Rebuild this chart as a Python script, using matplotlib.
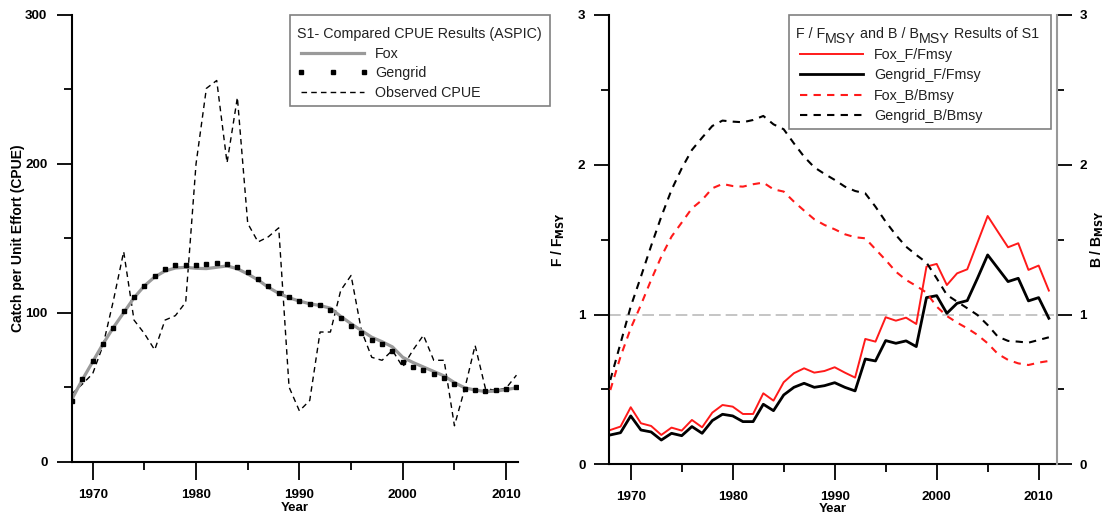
import numpy as np
import matplotlib.pyplot as plt
from matplotlib.ticker import MultipleLocator
from matplotlib.patches import Rectangle

plt.rcParams['font.family'] = ['Liberation Sans', 'DejaVu Sans']

# Tahun data
years = list(range(1968, 2012))

# CPUE (panel kiri)
cpue_fox = [42, 55, 67, 79, 90, 100, 110, 118, 124, 128, 130, 130.5, 129.8, 129.6, 130.5, 131.4,
            129.5, 126, 122, 117, 113, 110, 107.8, 106, 104.8, 103, 97.5, 92.6, 88, 83.5,
            80.5, 77, 70, 66.5, 63.5, 60.5, 57.5, 53, 49.5, 48, 47, 47.3, 48.3, 49.5]
cpue_gengrid = [40.4, 55.2, 67.5, 79.1, 89.9, 100.9, 110.3, 118.2, 124.4, 129.4, 131.8, 131.8,
                131.8, 132.5, 133.6, 132.7, 130.7, 127.6, 122.9, 117.7, 113.5, 110.5, 107.8, 105.8,
                105.4, 102.0, 96.4, 91.0, 86.1, 81.6, 79.1, 74.2, 67.0, 63.5, 61.7, 59.0,
                56.3, 52.2, 48.7, 48.2, 47.1, 47.8, 48.9, 50.0]
cpue_obs = [45.5, 52, 59, 78, 108, 141, 95, 86, 75, 95, 98, 107, 200, 250.7, 256, 200.7,
            244.6, 160, 147.5, 151, 157, 50, 34, 41, 87, 87, 115, 125, 88, 70, 68, 74.7,
            63.5, 75, 84.8, 68, 68, 24, 49, 78, 49, 47.8, 49.3, 58]

# F/Fmsy dan B/Bmsy (panel kanan)
fox_f = [0.229, 0.252, 0.381, 0.274, 0.256, 0.196, 0.245, 0.225, 0.296, 0.247, 0.345, 0.396,
         0.385, 0.336, 0.336, 0.474, 0.425, 0.548, 0.608, 0.641, 0.612, 0.623, 0.648, 0.612,
         0.579, 0.837, 0.819, 0.982, 0.959, 0.979, 0.937, 1.320, 1.338, 1.197, 1.275, 1.302,
         1.48, 1.658, 1.553, 1.449, 1.476, 1.298, 1.327, 1.160]
gengrid_f = [0.196, 0.211, 0.323, 0.229, 0.216, 0.162, 0.207, 0.191, 0.252, 0.207, 0.292, 0.334,
             0.323, 0.285, 0.285, 0.401, 0.358, 0.463, 0.514, 0.541, 0.514, 0.525, 0.545, 0.514,
             0.490, 0.703, 0.690, 0.826, 0.808, 0.824, 0.786, 1.113, 1.126, 1.008, 1.075, 1.093,
             1.242, 1.398, 1.309, 1.220, 1.242, 1.091, 1.113, 0.975]
fox_b = [0.496, 0.719, 0.908, 1.064, 1.231, 1.387, 1.520, 1.614, 1.709, 1.765, 1.843, 1.872,
         1.858, 1.854, 1.870, 1.881, 1.836, 1.821, 1.754, 1.694, 1.636, 1.598, 1.569, 1.536,
         1.516, 1.509, 1.436, 1.364, 1.286, 1.231, 1.191, 1.146, 1.053, 0.990, 0.946, 0.908,
         0.864, 0.808, 0.737, 0.697, 0.674, 0.663, 0.679, 0.690]
gengrid_b = [0.563, 0.808, 1.053, 1.253, 1.458, 1.654, 1.832, 1.976, 2.099, 2.181, 2.259, 2.295,
             2.288, 2.284, 2.299, 2.326, 2.270, 2.237, 2.143, 2.054, 1.983, 1.939, 1.899, 1.854,
             1.825, 1.809, 1.720, 1.620, 1.531, 1.453, 1.398, 1.347, 1.242, 1.131, 1.086, 1.042,
             0.997, 0.930, 0.852, 0.824, 0.819, 0.812, 0.830, 0.848]

W, H = 1109, 513
fig = plt.figure(figsize=(W / 100, H / 100), dpi=100)
txt_col = '#222222'
leg_fs = 10.3

leg_kw = dict(loc='upper left', frameon=False, fontsize=leg_fs, title_fontsize=leg_fs,
              borderaxespad=0, borderpad=0, handlelength=5.0, handletextpad=0.45,
              numpoints=3, labelcolor=txt_col)


def px(x, y):
    # piksel (dari kiri atas) -> koordinat figure
    return x / W, 1 - y / H


def legend_box(x0, y0, x1, y1):
    fig.patches.append(Rectangle(px(x0, y1), (x1 - x0) / W, (y1 - y0) / H,
                                 transform=fig.transFigure, fill=False,
                                 edgecolor='#808080', lw=1.2, zorder=5))


def style_axis(ax, xlen=13, xpad=6.5, ypad=6.5, xlabelpad=0):
    ax.spines['top'].set_visible(False)
    ax.xaxis.set_major_locator(MultipleLocator(10))
    ax.xaxis.set_minor_locator(MultipleLocator(5))
    ax.tick_params(axis='both', which='major', direction='out', width=1.3)
    ax.tick_params(axis='both', which='minor', direction='out', length=5.5, width=1.3)
    ax.tick_params(axis='x', which='major', length=xlen, pad=xpad)
    ax.tick_params(axis='y', which='major', length=11, pad=ypad)
    for lab in ax.get_xticklabels() + ax.get_yticklabels():
        lab.set_fontsize(9.7)
        lab.set_fontweight('bold')
    ax.set_xlabel('Year', fontsize=9.5, fontweight='bold', labelpad=xlabelpad)


# Panel kiri: CPUE
ax1 = fig.add_axes([71.7 / W, 1 - 461.5 / H, 446.3 / W, 446.5 / H])
ax1.plot(years, cpue_fox, color='#9a9a9a', lw=2.3, label='Fox', zorder=2)
ax1.plot(years, cpue_gengrid, ls='none', marker='s', ms=3.2, color='black', label='Gengrid', zorder=3)
ax1.plot(years, cpue_obs, color='black', lw=1, ls=(0, (4, 3)), label='Observed CPUE', zorder=1)
ax1.set_xlim(1967.97, 2011.15)
ax1.set_ylim(0, 300)
ax1.yaxis.set_major_locator(MultipleLocator(100))
ax1.yaxis.set_minor_locator(MultipleLocator(50))
ax1.spines['right'].set_visible(False)
ax1.spines['left'].set_linewidth(1.5)
ax1.spines['bottom'].set_linewidth(1.5)
style_axis(ax1, xlen=13, xpad=6.5, ypad=6.5, xlabelpad=1)
ax1.set_ylabel('Catch per Unit Effort (CPUE)', fontsize=10, fontweight='bold', labelpad=0)
leg1 = ax1.legend(title='S1- Compared CPUE Results (ASPIC)', labelspacing=0.39,
                  bbox_to_anchor=px(297, 27), bbox_transform=fig.transFigure, **leg_kw)
leg1._legend_box.align = 'left'
leg1.get_title().set_color(txt_col)
legend_box(290, 15, 550, 106)

# Panel kanan: F/Fmsy dan B/Bmsy
ax2 = fig.add_axes([609 / W, 1 - 464.3 / H, 447.5 / W, 449.3 / H])
ax3 = ax2.twinx()
ax2.axhline(1, color='#bbbbbb', lw=1.2, ls=(0, (7, 3)), zorder=0)
l1, = ax2.plot(years, fox_f, color='#ff1a1a', lw=1.4, label='Fox_F/Fmsy')
l2, = ax2.plot(years, gengrid_f, color='black', lw=2, label='Gengrid_F/Fmsy')
l3, = ax3.plot(years, fox_b, color='#ff1a1a', lw=1.5, ls=(0, (3.5, 3)), label='Fox_B/Bmsy')
l4, = ax3.plot(years, gengrid_b, color='black', lw=1.5, ls=(0, (3.5, 3)), label='Gengrid_B/Bmsy')
for ax in (ax2, ax3):
    ax.set_xlim(1967.87, 2011.75)
    ax.set_ylim(0, 3)
    ax.yaxis.set_major_locator(MultipleLocator(1))
    ax.yaxis.set_minor_locator(MultipleLocator(0.5))
    ax.spines['top'].set_visible(False)
ax2.spines['right'].set_visible(False)
ax2.spines['left'].set_linewidth(1.5)
ax2.spines['bottom'].set_linewidth(1.5)
ax3.spines['left'].set_visible(False)
ax3.spines['bottom'].set_visible(False)
ax3.spines['right'].set_color('#999999')
ax3.spines['right'].set_linewidth(1.5)
style_axis(ax2, xlen=11.5, xpad=7.5, ypad=6, xlabelpad=0)
ax3.tick_params(axis='y', which='major', direction='out', length=11, width=1.3, pad=5.5)
ax3.tick_params(axis='y', which='minor', direction='out', length=5, width=1.3)
for lab in ax3.get_yticklabels():
    lab.set_fontsize(9.7)
    lab.set_fontweight('bold')
ax2.set_ylabel(r'F / F$_{\mathbf{MSY}}$', fontsize=10, fontweight='bold', labelpad=8)
ax3.set_ylabel(r'B / B$_{\mathbf{MSY}}$', fontsize=10, fontweight='bold', labelpad=1)

# judul legenda: teks pengganti transparan, lalu ditulis ulang per potongan (MSY turun)
leg2 = ax3.legend(handles=[l1, l2, l3, l4], title='F / FMSY and B / BMSY Results of S1',
                  labelspacing=0.46, bbox_to_anchor=px(796, 27),
                  bbox_transform=fig.transFigure, **leg_kw)
leg2._legend_box.align = 'left'
leg2.get_title().set_alpha(0)
legend_box(789, 15, 1051, 129)

fig.canvas.draw()
tb = leg2.get_title().get_window_extent()
pieces = [('F / F', 0), ('MSY', -3.5), (' and B / B', 3.5), ('MSY', -3.5), (' Results of S1', 3.5)]
prev = fig.text(tb.x0 / W, tb.y0 / H, pieces[0][0], fontsize=leg_fs, color=txt_col,
                ha='left', va='bottom')
for s, dy in pieces[1:]:
    prev = ax3.annotate(s, xy=(1, 0), xycoords=prev, xytext=(0, dy), textcoords='offset points',
                        fontsize=leg_fs, color=txt_col, ha='left', va='bottom',
                        annotation_clip=False)

fig.savefig('out.png', dpi=100)
